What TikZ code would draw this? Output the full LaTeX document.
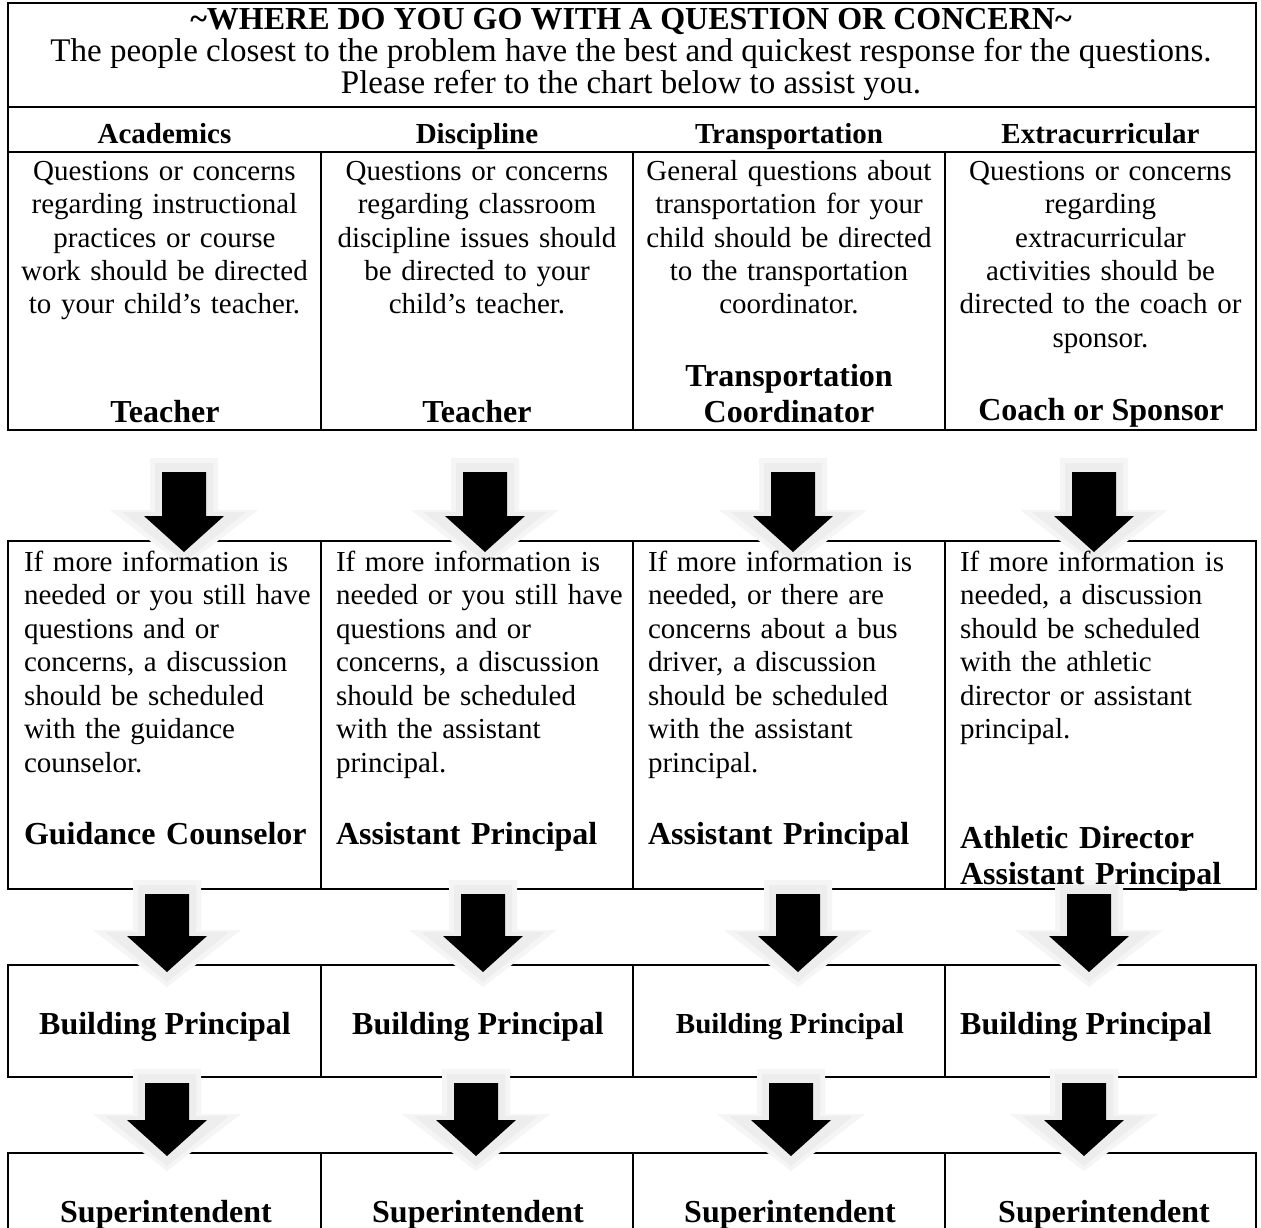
\documentclass[tikz,border=0pt]{standalone}
\usepackage{fontspec}
\setmainfont{Liberation Serif}
\tikzset{
  cellbox/.style={draw=black, line width=2pt, inner sep=0pt, outer sep=0pt, anchor=north west},
  titlefont/.style={font=\fontsize{33pt}{32.5pt}\selectfont, inner sep=0pt, outer sep=0pt, anchor=base},
  hdr/.style={font=\fontsize{29pt}{33pt}\selectfont\bfseries, inner sep=0pt, outer sep=0pt, anchor=base},
  ctext/.style={font=\fontsize{29pt}{33.5pt}\selectfont, inner sep=0pt, outer sep=0pt, text width=305pt, align=center, anchor=base},
  ltext/.style={font=\fontsize{29pt}{33.5pt}\selectfont, inner sep=0pt, outer sep=0pt, text width=300pt, align=left, anchor=base west},
  who/.style={font=\fontsize{32pt}{36pt}\selectfont\bfseries, inner sep=0pt, outer sep=0pt, anchor=base},
  whoL/.style={font=\fontsize{32pt}{36pt}\selectfont\bfseries, inner sep=0pt, outer sep=0pt, anchor=base west, text width=300pt, align=left},
  whoC/.style={font=\fontsize{32pt}{36pt}\selectfont\bfseries, inner sep=0pt, outer sep=0pt, anchor=base, text width=305pt, align=center},
  glowfill/.style={fill=black!7},
  glowfillb/.style={fill=black!4},
  arrowfill/.style={fill=black},
}
\newcommand\blockarrow[3]{%
  \fill[glowfillb] (#1-34,#2-14) -- (#1+34,#2-14) -- (#1+34,#3-42) -- (#1+74,#3-42) -- (#1,#3+15) -- (#1-74,#3-42) -- (#1-34,#3-42) -- cycle;
  \fill[glowfill] (#1-29,#2-9) -- (#1+29,#2-9) -- (#1+29,#3-40) -- (#1+62,#3-40) -- (#1,#3+10) -- (#1-62,#3-40) -- (#1-29,#3-40) -- cycle;
  \fill[arrowfill] (#1-22,#2) -- (#1+22,#2) -- (#1+22,#3-36) -- (#1+40,#3-36) -- (#1,#3) -- (#1-40,#3-36) -- (#1-22,#3-36) -- cycle;
}
\begin{document}
\begin{tikzpicture}[x=1pt,y=-1pt]
\useasboundingbox (0,0) rectangle (1261,1228);
\fill[white] (0,0) rectangle (1261,1228);

% ---- top table
\node[cellbox, minimum width=1248pt, minimum height=104pt] (title) at (8,3) {};
\node[cellbox, minimum width=1248pt, minimum height=45pt] (head) at (8,107) {};
\node[cellbox, minimum width=313pt, minimum height=278pt] (a1) at (8,152) {};
\node[cellbox, minimum width=312pt, minimum height=278pt] (b1) at (321,152) {};
\node[cellbox, minimum width=312pt, minimum height=278pt] (c1) at (633,152) {};
\node[cellbox, minimum width=311pt, minimum height=278pt] (d1) at (945,152) {};

% ---- middle table
\node[cellbox, minimum width=313pt, minimum height=348pt] (a2) at (8,541) {};
\node[cellbox, minimum width=312pt, minimum height=348pt] (b2) at (321,541) {};
\node[cellbox, minimum width=312pt, minimum height=348pt] (c2) at (633,541) {};
\node[cellbox, minimum width=311pt, minimum height=348pt] (d2) at (945,541) {};

% ---- building principal row
\node[cellbox, minimum width=313pt, minimum height=112pt] (a3) at (8,965) {};
\node[cellbox, minimum width=312pt, minimum height=112pt] (b3) at (321,965) {};
\node[cellbox, minimum width=312pt, minimum height=112pt] (c3) at (633,965) {};
\node[cellbox, minimum width=311pt, minimum height=112pt] (d3) at (945,965) {};

% ---- superintendent row (open at the bottom edge)
\node[cellbox, minimum width=313pt, minimum height=82pt] (a4) at (8,1153) {};
\node[cellbox, minimum width=312pt, minimum height=82pt] (b4) at (321,1153) {};
\node[cellbox, minimum width=312pt, minimum height=82pt] (c4) at (633,1153) {};
\node[cellbox, minimum width=311pt, minimum height=82pt] (d4) at (945,1153) {};

% ---- arrows
\blockarrow{184}{472}{552}
\blockarrow{485}{472}{552}
\blockarrow{793}{472}{552}
\blockarrow{1094}{472}{552}

\blockarrow{167}{894}{972}
\blockarrow{483}{894}{972}
\blockarrow{798}{894}{972}
\blockarrow{1089}{894}{972}

\blockarrow{167}{1083}{1156}
\blockarrow{476}{1083}{1156}
\blockarrow{791}{1083}{1156}
\blockarrow{1084}{1083}{1156}

% ---- title texts
\node[titlefont, font=\fontsize{32pt}{32.5pt}\selectfont\bfseries] (t1) at (631,30) {\char`~WHERE DO YOU GO WITH A QUESTION OR CONCERN\char`~};
\node[titlefont] (t2) at (631,62) {The people closest to the problem have the best and quickest response for the questions.};
\node[titlefont] (t3) at (631,94) {Please refer to the chart below to assist you.};

% ---- headers
\node[hdr] (h1) at (164.5,144) {Academics};
\node[hdr] (h2) at (477,144) {Discipline};
\node[hdr] (h3) at (789,144) {Transportation};
\node[hdr] (h4) at (1100.5,144) {Extracurricular};

% ---- top cells
\node[ctext] (q1) at (164.5,180) {Questions or concerns\\regarding instructional\\practices or course\\work should be directed\\to your child’s teacher.};
\node[ctext] (q2) at (477,180) {Questions or concerns\\regarding classroom\\discipline issues should\\be directed to your\\child’s teacher.};
\node[ctext] (q3) at (789,180) {General questions about\\transportation for your\\child should be directed\\to the transportation\\coordinator.};
\node[ctext] (q4) at (1100.5,180) {Questions or concerns\\regarding\\extracurricular\\activities should be\\directed to the coach or\\sponsor.};

\node[who] (w1) at (165,422) {Teacher};
\node[who] (w2) at (477,422) {Teacher};
\node[whoC] (w3) at (789,386) {Transportation\\Coordinator};
\node[who] (w4) at (1101,420) {Coach or Sponsor};

% ---- middle cells
\node[ltext] (m1) at (24,571) {If more information is\\needed or you still have\\questions and or\\concerns, a discussion\\should be scheduled\\with the guidance\\counselor.};
\node[ltext] (m2) at (336,571) {If more information is\\needed or you still have\\questions and or\\concerns, a discussion\\should be scheduled\\with the assistant\\principal.};
\node[ltext] (m3) at (648,571) {If more information is\\needed, or there are\\concerns about a bus\\driver, a discussion\\should be scheduled\\with the assistant\\principal.};
\node[ltext] (m4) at (960,571) {If more information is\\needed, a discussion\\should be scheduled\\with the athletic\\director or assistant\\principal.};

\node[whoL] (n1) at (24,844) {Guidance Counselor};
\node[whoL] (n2) at (336,844) {Assistant Principal};
\node[whoL] (n3) at (648,844) {Assistant Principal};
\node[whoL] (n4) at (960,848) {Athletic Director\\Assistant Principal};

% ---- building principal
\node[who] (p1) at (165,1034) {Building Principal};
\node[who] (p2) at (478,1034) {Building Principal};
\node[who, font=\fontsize{29pt}{33pt}\selectfont\bfseries] (p3) at (790,1033) {Building Principal};
\node[who] (p4) at (1086,1034) {Building Principal};

% ---- superintendent
\node[who] (s1) at (166,1222) {Superintendent};
\node[who] (s2) at (478,1222) {Superintendent};
\node[who] (s3) at (790,1222) {Superintendent};
\node[who] (s4) at (1104,1222) {Superintendent};
\end{tikzpicture}
\end{document}
